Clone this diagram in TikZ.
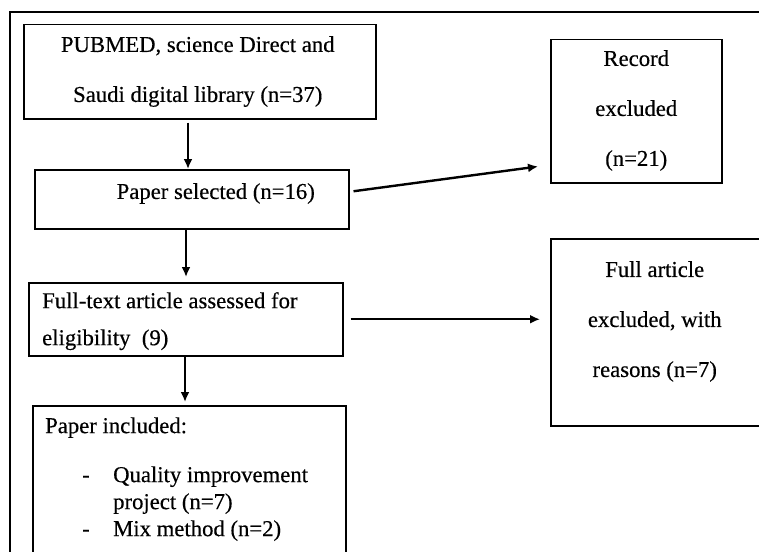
\documentclass[tikz,border=0pt]{standalone}
\usepackage{fontspec}
\setmainfont{Liberation Serif}[FakeBold=0.4]
\usetikzlibrary{arrows.meta, positioning}
\tikzstyle{box} = [rectangle, anchor=north west, inner sep=0pt, line width=1.5pt, draw=black]
\tikzstyle{boxtext} = [inner sep=0pt, align=center, font=\fontsize{22.7}{50}\selectfont]
\tikzstyle{listtext} = [inner sep=0pt, align=left, font=\fontsize{22.7}{27}\selectfont]
\tikzstyle{frame} = [line width=2.3pt, draw=black]
\tikzstyle{arrow} = [line width=2.4pt, -{Latex[length=10pt,width=9pt]}]

\begin{document}
\begin{tikzpicture}[x=1pt, y=-1pt]
 \useasboundingbox (0,0) rectangle (759,551);
 \clip (0,0) rectangle (759,551);
 \draw[frame] (10,570) -- (10,12) -- (780,12);

 \node (search) [box, minimum width=352pt, minimum height=94pt] at (23,24) {};
 \node (selected) [box, minimum width=314pt, minimum height=59pt] at (34,169) {};
 \node (assessed) [box, minimum width=314pt, minimum height=73pt] at (28,282) {};
 \node (included) [box, minimum width=313pt, minimum height=160pt] at (32,405) {};
 \node (record) [box, minimum width=171pt, minimum height=143pt] at (550,39) {};
 \node (fullexcl) [box, minimum width=212pt, minimum height=187pt] at (550,238) {};

 \node (search-txt) [boxtext, below=12pt of search.north, xshift=-2pt] {PUBMED, science Direct and\\Saudi digital library (n=37)};
 \node (selected-txt) [boxtext, below=14pt of selected.north, xshift=24pt] {Paper selected (n=16)};
 \node (assessed-txt) [boxtext, align=left, font=\fontsize{22.7}{37}\selectfont, below right=10pt and 14pt of assessed.north west] {Full-text article assessed for\\eligibility\ \ (9)};
 \node (included-txt) [listtext, below right=9pt and 13pt of included.north west] {%
  \begin{tabular}{@{}p{68pt}@{}l@{}}
   \multicolumn{2}{@{}l@{}}{Paper included:}\\[22pt]
   \hspace*{37pt}- & Quality improvement\\
   & project (n=7)\\
   \hspace*{37pt}- & Mix method (n=2)
  \end{tabular}};
 \node (record-txt) [boxtext, below=11pt of record.north] {Record\\excluded\\(n=21)};
 \node (fullexcl-txt) [boxtext, below=23pt of fullexcl.north, xshift=-2pt] {Full article\\excluded, with\\reasons (n=7)};

 \draw[arrow] ([xshift=165pt,yshift=-3pt]search.south west) -- ([xshift=154pt]selected.north west);
 \draw[arrow] ([xshift=152pt]selected.south west) -- ([xshift=158pt,yshift=5pt]assessed.north west);
 \draw[arrow] ([xshift=157pt]assessed.south west) -- ([xshift=153pt,yshift=3pt]included.north west);
 \draw[arrow] ([xshift=4pt,yshift=8pt]selected.east) -- ([xshift=-12pt,yshift=17pt]record.south west);
 \draw[arrow] ([xshift=7pt]assessed.east) -- ([xshift=-10pt,yshift=13pt]fullexcl.west);
\end{tikzpicture}
\end{document}
